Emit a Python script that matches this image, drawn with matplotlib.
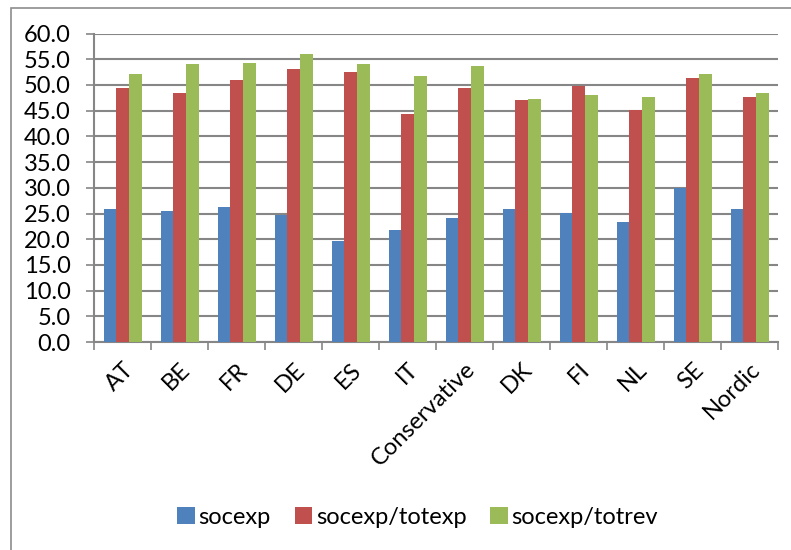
import matplotlib.pyplot as plt
import numpy as np
from matplotlib.patches import Rectangle
from matplotlib.transforms import ScaledTranslation

# data
countries = ["AT", "BE", "FR", "DE", "ES", "IT", "Conservative",
             "DK", "FI", "NL", "SE", "Nordic"]
socexp = [25.9, 25.5, 26.3, 24.8, 19.7, 21.8, 24.1, 25.9, 25.2, 23.4, 30.0, 25.9]
socexp_totexp = [49.4, 48.5, 51.0, 53.2, 52.5, 44.3, 49.5, 47.0, 49.8, 45.1, 51.4, 47.7]
socexp_totrev = [52.1, 54.0, 54.2, 56.1, 54.0, 51.7, 53.6, 47.3, 48.0, 47.6, 52.1, 48.4]
y_ticks = np.arange(0, 60.1, 5)

plt.rcParams['font.family'] = ['Lato', 'DejaVu Sans']

fig = plt.figure(figsize=(7.91, 5.5), dpi=100)
ax = fig.add_axes([0.119, 0.378, 0.865, 0.561])

# chart border (Excel chart area)
fig.patches.append(Rectangle((11 / 791, -0.1), 1.1, 1 - 7.5 / 550 + 0.1,
                             transform=fig.transFigure, fill=False,
                             edgecolor="#8c8c8c", linewidth=1.2))

x = np.arange(len(countries))
w = 1 / 4.5
ax.bar(x - w, socexp, w, color="#4F81BD", label="socexp", zorder=3)
ax.bar(x, socexp_totexp, w, color="#C0504D", label="socexp/totexp", zorder=3)
ax.bar(x + w, socexp_totrev, w, color="#9BBB59", label="socexp/totrev", zorder=3)

ax.set_xlim(-0.5, len(countries) - 0.5)
ax.set_ylim(0, 60)
ax.set_yticks(y_ticks)
ax.set_yticklabels(["%.1f" % v for v in y_ticks], fontsize=17)
ax.yaxis.grid(True, color="#868686", linewidth=1.5, zorder=0)

ax.set_xticks(x)
ax.set_xticklabels(countries, rotation=45, ha="right", rotation_mode="anchor",
                   fontsize=17)
shift = ScaledTranslation(0.13, 0, fig.dpi_scale_trans)
for lbl in ax.get_xticklabels():
    lbl.set_transform(lbl.get_transform() + shift)
ax.set_xticks(np.arange(-0.5, len(countries)), minor=True)
ax.tick_params(axis="x", which="major", length=0, pad=12)
ax.tick_params(axis="x", which="minor", length=6, color="#868686", width=1.2)
ax.tick_params(axis="y", length=6, color="#868686", width=1.2, pad=11)

for s in ["top", "right"]:
    ax.spines[s].set_visible(False)
for s in ["left", "bottom"]:
    ax.spines[s].set_color("#868686")
    ax.spines[s].set_linewidth(1.5)

fig.legend(loc="center", bbox_to_anchor=(0.528, 0.06), ncol=3, frameon=False,
           fontsize=17, handlelength=0.75, handleheight=0.75, handletextpad=0.15,
           columnspacing=1.0)

plt.savefig("out.png")
